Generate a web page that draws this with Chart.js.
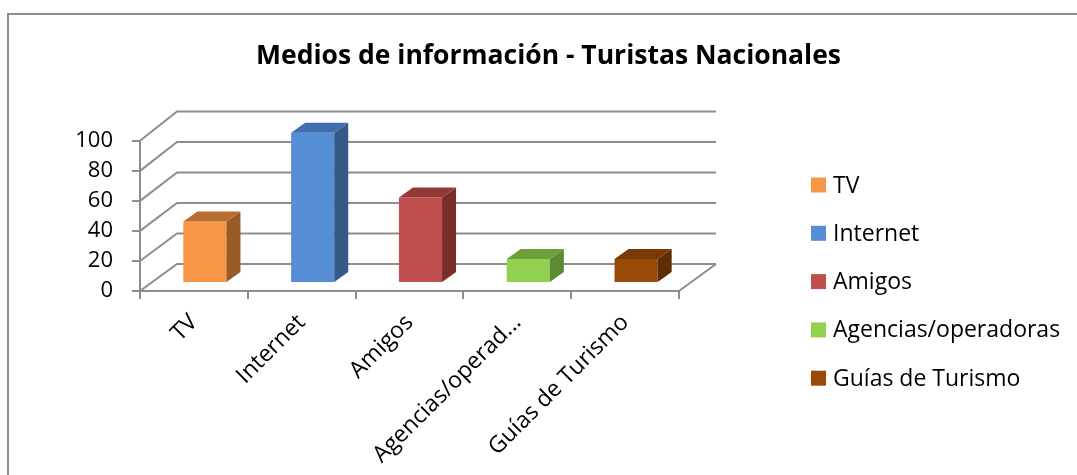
<!DOCTYPE html>
<html>
<head>
<meta charset="utf-8">
<script src="https://cdn.jsdelivr.net/npm/chart.js@4/dist/chart.umd.min.js"></script>
<style>
    html, body { margin: 0; padding: 0; background: #fff; overflow: hidden; }
    .frame { position: absolute; left: 7px; top: 13px; width: 1200px; height: 600px; border: 2px solid #8d8d8d; }
    .wrap { position: absolute; left: 0; top: 0; width: 1077px; height: 475px; }
</style>
</head>
<body>
<div class="frame"></div>
<div class="wrap"><canvas id="grafico"></canvas></div>
<script>
// Data
const categorias = ['TV', 'Internet', 'Amigos', 'Agencias/operadoras', 'Guías de Turismo'];
const valores = [41, 100, 57, 16, 16];
const ticksY = [0, 20, 40, 60, 80, 100];

// Colores: frente, tapa, lado
const colorFrente = ['#F79646', '#558ED5', '#C0504D', '#92D050', '#984807'];
const colorTapa = ['#B96E31', '#3F6FAE', '#943836', '#6E9D3C', '#793A06'];
const colorLado = ['#9C5A25', '#365A88', '#7B2D2C', '#5E8A33', '#5E2D04'];

const GRIS = '#8d8d8d';
const FUENTE = 'Open Sans';

// profundidad del "3D"
const fondoDX = 37, fondoDY = -27, fondoEscala = 1.015;
const barraTX = 11, barraTY = -8;
const barraDX = 14, barraDY = -10;

const plugin3D = {
    id: 'efecto3d',
    beforeDatasetsDraw(chart) {
        const ctx = chart.ctx;
        const area = chart.chartArea;
        const y = chart.scales.y;
        const fondoY = (py) => area.bottom + fondoDY + (py - area.bottom) * fondoEscala;

        ctx.save();
        ctx.strokeStyle = GRIS;
        ctx.lineWidth = 2;
        ticksY.forEach(function(v) {
            const py = y.getPixelForValue(v);
            ctx.beginPath();
            ctx.moveTo(area.left, py);
            ctx.lineTo(area.left + fondoDX, fondoY(py));
            ctx.lineTo(area.right + fondoDX, fondoY(py));
            ctx.stroke();
        });
        // diagonal del piso a la derecha
        ctx.beginPath();
        ctx.moveTo(area.right, area.bottom);
        ctx.lineTo(area.right + fondoDX, fondoY(area.bottom));
        ctx.stroke();
        ctx.restore();

        // las barras se dibujan corridas hacia el fondo
        ctx.save();
        ctx.translate(barraTX, barraTY);
    },
    afterDatasetsDraw(chart) {
        const ctx = chart.ctx;
        chart.getDatasetMeta(0).data.forEach(function(bar, i) {
            const p = bar.getProps(['x', 'y', 'base', 'width'], true);
            const l = p.x - p.width / 2, r = p.x + p.width / 2;
            // lado
            ctx.fillStyle = colorLado[i];
            ctx.beginPath();
            ctx.moveTo(r, p.y);
            ctx.lineTo(r + barraDX, p.y + barraDY);
            ctx.lineTo(r + barraDX, p.base + barraDY);
            ctx.lineTo(r, p.base);
            ctx.closePath();
            ctx.fill();
            // tapa
            ctx.fillStyle = colorTapa[i];
            ctx.beginPath();
            ctx.moveTo(l, p.y);
            ctx.lineTo(l + barraDX, p.y + barraDY);
            ctx.lineTo(r + barraDX, p.y + barraDY);
            ctx.lineTo(r, p.y);
            ctx.closePath();
            ctx.fill();
        });
        ctx.restore();
    }
};

// Leyenda a la derecha
const pluginLeyenda = {
    id: 'leyenda',
    afterDraw(chart) {
        const ctx = chart.ctx;
        ctx.save();
        ctx.font = '23px "' + FUENTE + '"';
        ctx.textBaseline = 'middle';
        ctx.textAlign = 'left';
        categorias.forEach(function(c, i) {
            const cy = 185 + i * 48.3;
            ctx.fillStyle = colorFrente[i];
            ctx.fillRect(811, cy - 7.5, 15, 15);
            ctx.fillStyle = '#000';
            ctx.fillText(c, 833, cy + 1);
        });
        ctx.restore();
    }
};

const ctx = document.getElementById('grafico').getContext('2d');
new Chart(ctx, {
    type: 'bar',
    data: {
        labels: categorias,
        datasets: [{
            label: 'Medios de información',
            data: valores,
            backgroundColor: colorFrente,
            borderWidth: 0,
            categoryPercentage: 1,
            barPercentage: 0.4,
            clip: false
        }]
    },
    options: {
        responsive: true,
        maintainAspectRatio: false,
        animation: false,
        layout: { padding: { left: 20, right: 0, top: 0, bottom: 0 } },
        plugins: {
            title: {
                display: true,
                text: 'Medios de información - Turistas Nacionales',
                color: '#000',
                font: { family: FUENTE, size: 26.5, weight: 'bold' },
                padding: { top: 41, bottom: 68 }
            },
            legend: { display: false },
            tooltip: { enabled: false }
        },
        scales: {
            x: {
                grid: { drawOnChartArea: false, color: GRIS, lineWidth: 2, tickLength: 8 },
                border: { color: GRIS, width: 2 },
                ticks: {
                    color: '#000',
                    font: { family: FUENTE, size: 23 },
                    minRotation: 45,
                    maxRotation: 45,
                    padding: 10,
                    callback: function(v) {
                        const t = this.getLabelForValue(v);
                        return t.length > 16 ? t.slice(0, 15) + '...' : t;
                    }
                },
                afterFit: function(s) { s.height = 184; }
            },
            y: {
                min: 0,
                max: 100,
                grid: { drawOnChartArea: false, color: GRIS, lineWidth: 2, tickLength: 8 },
                border: { color: GRIS, width: 2 },
                ticks: {
                    color: '#000',
                    font: { family: FUENTE, size: 22 },
                    stepSize: 20,
                    padding: 19
                },
                afterFit: function(s) { s.width = 120; }
            },
            // espacio para la profundidad y la leyenda
            hueco: {
                position: 'right',
                grid: { display: false },
                border: { display: false },
                ticks: { display: false },
                afterFit: function(s) { s.width = 398; }
            }
        }
    },
    plugins: [plugin3D, pluginLeyenda]
});
</script>
</body>
</html>
